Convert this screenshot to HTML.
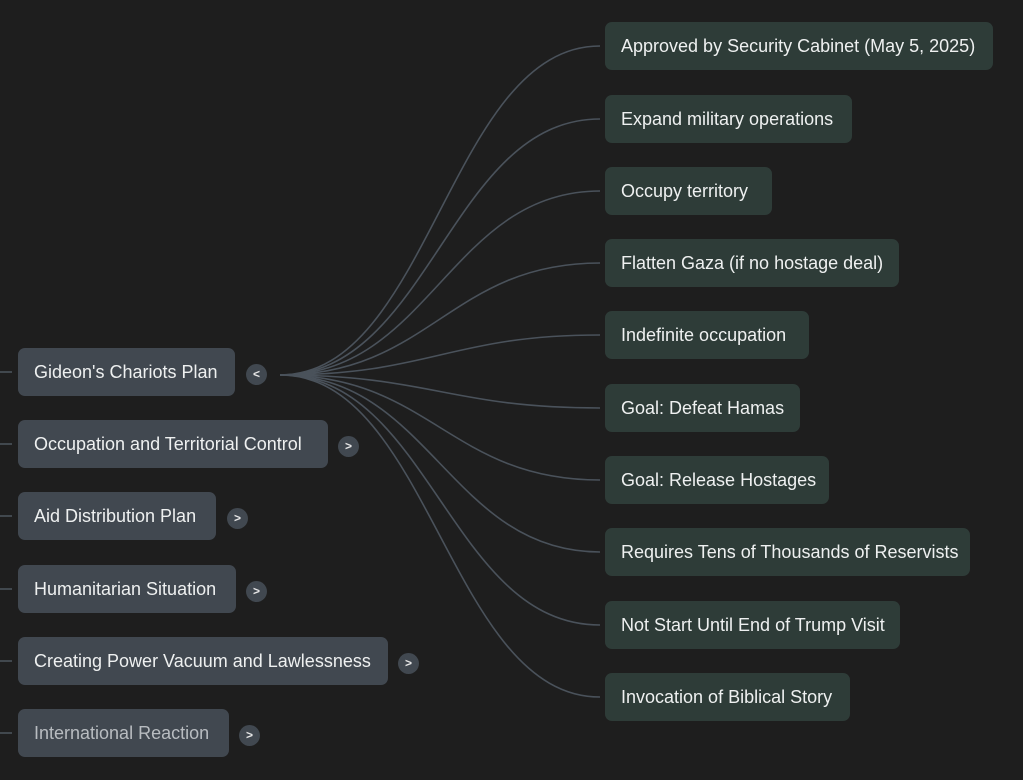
<!DOCTYPE html>
<html><head><style>
body{margin:0;width:1023px;height:780px;background:#1e1e1e;overflow:hidden;position:relative;font-family:"Liberation Sans",sans-serif;}
.n{position:absolute;height:48px;border-radius:7px;box-sizing:border-box;padding-left:16px;line-height:48px;font-size:18px;color:#eef0f0;white-space:nowrap;}
.l{background:#414850;left:18px;}
.r{background:#2e3c38;left:605px;}
.t{position:absolute;width:21px;height:21px;border-radius:50%;background:#414850;color:#e8e8e8;font-size:12px;font-weight:bold;text-align:center;line-height:21px;}
</style></head><body>
<svg width="1023" height="780" style="position:absolute;left:0;top:0" fill="none" stroke="#4a525b" stroke-width="1.6">
<g>
<line x1="0" y1="372" x2="12" y2="372"/><line x1="0" y1="444" x2="12" y2="444"/><line x1="0" y1="516" x2="12" y2="516"/>
<line x1="0" y1="589" x2="12" y2="589"/><line x1="0" y1="661" x2="12" y2="661"/><line x1="0" y1="733" x2="12" y2="733"/>
</g>
<g id="c"></g>
</svg>
<script>
var ys=[46,119,191,263,335,408,480,552,625,697],s='';
ys.forEach(function(y){s+='<path d="M280 375 C430 375 450 '+y+' 600 '+y+'"/>';});
document.getElementById('c').innerHTML=s;
</script>
<div class="n l" style="top:348px;width:217px">Gideon's Chariots Plan</div>
<div class="n l" style="top:420px;width:310px">Occupation and Territorial Control</div>
<div class="n l" style="top:492px;width:198px">Aid Distribution Plan</div>
<div class="n l" style="top:565px;width:218px">Humanitarian Situation</div>
<div class="n l" style="top:637px;width:370px">Creating Power Vacuum and Lawlessness</div>
<div class="n l" style="top:709px;width:211px;color:#b8bcc0">International Reaction</div>
<div class="t" style="left:246px;top:364px">&lt;</div>
<div class="t" style="left:338px;top:436px">&gt;</div>
<div class="t" style="left:227px;top:508px">&gt;</div>
<div class="t" style="left:246px;top:581px">&gt;</div>
<div class="t" style="left:398px;top:653px">&gt;</div>
<div class="t" style="left:239px;top:725px">&gt;</div>
<div class="n r" style="top:22px;width:388px">Approved by Security Cabinet (May 5, 2025)</div>
<div class="n r" style="top:95px;width:247px">Expand military operations</div>
<div class="n r" style="top:167px;width:167px">Occupy territory</div>
<div class="n r" style="top:239px;width:294px">Flatten Gaza (if no hostage deal)</div>
<div class="n r" style="top:311px;width:204px">Indefinite occupation</div>
<div class="n r" style="top:384px;width:195px">Goal: Defeat Hamas</div>
<div class="n r" style="top:456px;width:224px">Goal: Release Hostages</div>
<div class="n r" style="top:528px;width:365px">Requires Tens of Thousands of Reservists</div>
<div class="n r" style="top:601px;width:295px">Not Start Until End of Trump Visit</div>
<div class="n r" style="top:673px;width:245px">Invocation of Biblical Story</div>
</body></html>
